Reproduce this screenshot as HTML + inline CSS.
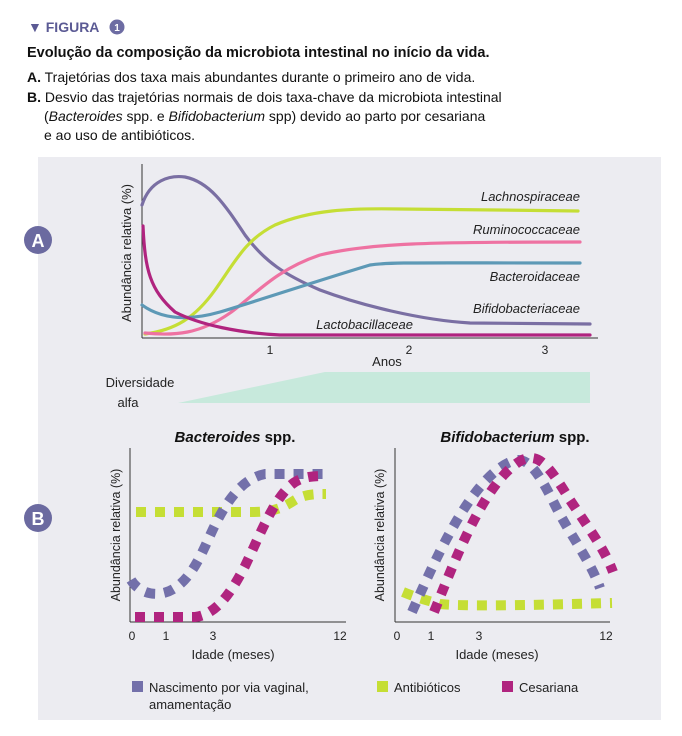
<!DOCTYPE html>
<html><head><meta charset="utf-8"><style>
body{margin:0;width:682px;height:736px;background:#fff;font-family:"Liberation Sans",sans-serif;overflow:hidden}
svg{position:absolute;left:0;top:0}
</style></head><body>
<svg width="682" height="736" viewBox="0 0 682 736" font-family="Liberation Sans, sans-serif">
<rect x="38" y="157" width="623" height="563" fill="#ececf1"/>
<text x="28" y="32" font-size="14" font-weight="bold" fill="#5b5a94">▼ FIGURA</text>
<circle cx="117" cy="27" r="7.5" fill="#6d6ca3"/>
<text x="117" y="31" font-size="10" font-weight="bold" fill="#fff" text-anchor="middle">1</text>
<text x="27" y="57" font-size="14.5" font-weight="bold" fill="#111">Evolução da composição da microbiota intestinal no início da vida.</text>
<g font-size="14" fill="#111">
<text x="27" y="82"><tspan font-weight="bold">A.</tspan> Trajetórias dos taxa mais abundantes durante o primeiro ano de vida.</text>
<text x="27" y="102"><tspan font-weight="bold">B.</tspan> Desvio das trajetórias normais de dois taxa-chave da microbiota intestinal</text>
<text x="44" y="121">(<tspan font-style="italic">Bacteroides</tspan> spp. e <tspan font-style="italic">Bifidobacterium</tspan> spp) devido ao parto por cesariana</text>
<text x="44" y="140">e ao uso de antibióticos.</text>
</g>
<circle cx="38" cy="240" r="14" fill="#6b6aa0"/><text x="38" y="247" font-size="18" font-weight="bold" fill="#fff" text-anchor="middle">A</text>
<circle cx="38" cy="518" r="14" fill="#6b6aa0"/><text x="38" y="525" font-size="18" font-weight="bold" fill="#fff" text-anchor="middle">B</text>
<!-- chart A -->
<line x1="142" y1="164" x2="142" y2="338" stroke="#333" stroke-width="1"/>
<line x1="142" y1="338" x2="598" y2="338" stroke="#333" stroke-width="1"/>
<text transform="translate(131,253) rotate(-90)" font-size="13" text-anchor="middle" fill="#222">Abundância relativa (%)</text>
<g font-size="12" fill="#222" text-anchor="middle"><text x="270" y="354">1</text><text x="409" y="354">2</text><text x="545" y="354">3</text></g>
<text x="387" y="366" font-size="13" text-anchor="middle" fill="#222">Anos</text>
<g fill="none" stroke-width="3.2" stroke-linecap="round">
<path d="M142,205 C150,180 170,175 185,177 C210,182 225,205 245,235 C265,262 285,275 320,290 C360,305 420,320 470,323 L590,324" stroke="#7a6fa3"/>
<path d="M145,334 C175,330 195,318 215,290 C235,262 245,240 275,225 C310,210 350,208 400,209 C470,210 520,210 578,211" stroke="#c5de35"/>
<path d="M145,333 C175,336 200,334 230,313 C255,295 275,270 320,255 C370,243 430,242 580,242" stroke="#ee72a2"/>
<path d="M142,305 C160,318 185,322 220,312 C260,300 320,280 370,265 C390,262 420,263 580,263" stroke="#5d99b6"/>
<path d="M143,226 C145,270 150,290 175,312 C200,325 240,333 280,335 L590,335" stroke="#b0247f"/>
</g>
<g font-size="13" font-style="italic" fill="#222" text-anchor="end">
<text x="580" y="201">Lachnospiraceae</text>
<text x="580" y="234">Ruminococcaceae</text>
<text x="580" y="281">Bacteroidaceae</text>
<text x="580" y="313">Bifidobacteriaceae</text>
<text x="413" y="329">Lactobacillaceae</text>
</g>
<polygon points="178,403 325,372 590,372 590,403" fill="#c7e9dc"/>
<text x="140" y="387" font-size="13" text-anchor="middle" fill="#222">Diversidade</text>
<text x="128" y="407" font-size="13" text-anchor="middle" fill="#222">alfa</text>
<!-- chart B left -->
<text x="235" y="442" font-size="15" font-weight="bold" text-anchor="middle" fill="#111"><tspan font-style="italic">Bacteroides</tspan> spp.</text>
<line x1="130" y1="448" x2="130" y2="622" stroke="#333"/>
<line x1="130" y1="622" x2="346" y2="622" stroke="#333"/>
<text transform="translate(120,535) rotate(-90)" font-size="12.5" text-anchor="middle" fill="#222">Abundância relativa (%)</text>
<g font-size="12" fill="#222" text-anchor="middle"><text x="132" y="640">0</text><text x="166" y="640">1</text><text x="213" y="640">3</text><text x="340" y="640">12</text></g>
<text x="233" y="659" font-size="13" text-anchor="middle" fill="#222">Idade (meses)</text>
<g fill="none" stroke-width="10" stroke-dasharray="10 9">
<path d="M136,512 L250,512 C270,512 280,510 295,500 C305,494 315,494 326,494" stroke="#c5de35"/>
<path d="M131,580 C140,595 160,598 175,588 C195,575 205,545 215,525 C230,495 245,478 265,474 L325,474" stroke="#7370aa"/>
<path d="M135,617 L195,617 C215,615 230,595 245,566 C260,535 275,495 295,482 C305,476 315,476 325,476" stroke="#b0247f"/>
</g>
<!-- chart B right -->
<text x="515" y="442" font-size="15" font-weight="bold" text-anchor="middle" fill="#111"><tspan font-style="italic">Bifidobacterium</tspan> spp.</text>
<line x1="395" y1="448" x2="395" y2="622" stroke="#333"/>
<line x1="395" y1="622" x2="610" y2="622" stroke="#333"/>
<text transform="translate(384,535) rotate(-90)" font-size="12.5" text-anchor="middle" fill="#222">Abundância relativa (%)</text>
<g font-size="12" fill="#222" text-anchor="middle"><text x="397" y="640">0</text><text x="431" y="640">1</text><text x="479" y="640">3</text><text x="606" y="640">12</text></g>
<text x="497" y="659" font-size="13" text-anchor="middle" fill="#222">Idade (meses)</text>
<g fill="none" stroke-width="10" stroke-dasharray="10 9">
<path d="M403,592 C415,597 425,600 440,604 C460,606 500,606 612,603" stroke="#c5de35"/>
<path d="M412,612 C435,560 470,480 510,462 C525,455 535,465 555,505 C570,535 590,560 600,588" stroke="#7370aa"/>
<path d="M434,612 C455,560 485,480 522,460 C540,452 550,468 570,500 C590,530 605,550 613,572" stroke="#b0247f"/>
</g>
<!-- legend -->
<rect x="132" y="681" width="11" height="11" fill="#7370aa"/>
<text x="149" y="692" font-size="13" fill="#222">Nascimento por via vaginal,</text>
<text x="149" y="709" font-size="13" fill="#222">amamentação</text>
<rect x="377" y="681" width="11" height="11" fill="#c5de35"/>
<text x="394" y="692" font-size="13" fill="#222">Antibióticos</text>
<rect x="502" y="681" width="11" height="11" fill="#b0247f"/>
<text x="519" y="692" font-size="13" fill="#222">Cesariana</text>
</svg>
</body></html>
